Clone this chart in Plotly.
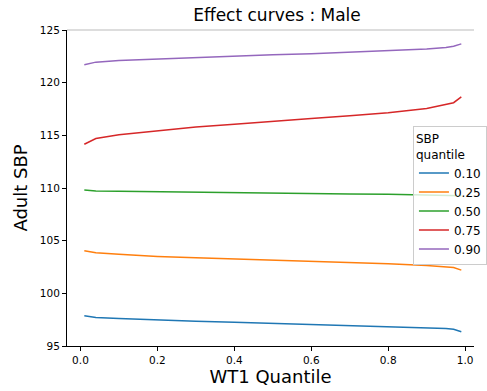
import plotly.graph_objects as go

x_quantile = [0.01, 0.04, 0.1, 0.2, 0.3, 0.4, 0.5, 0.6, 0.7, 0.8, 0.9, 0.95, 0.97, 0.99]
sbp_q10 = [97.88, 97.7, 97.6, 97.45, 97.35, 97.25, 97.15, 97.05, 96.95, 96.85, 96.72, 96.65, 96.58, 96.35]
sbp_q25 = [104.05, 103.85, 103.7, 103.5, 103.38, 103.28, 103.15, 103.05, 102.95, 102.82, 102.65, 102.5, 102.45, 102.2]
sbp_q50 = [109.8, 109.72, 109.68, 109.63, 109.58, 109.55, 109.5, 109.47, 109.43, 109.4, 109.36, 109.33, 109.32, 109.27]
sbp_q75 = [114.15, 114.7, 115.05, 115.45, 115.8, 116.05, 116.35, 116.6, 116.85, 117.15, 117.55, 117.9, 118.1, 118.65]
sbp_q90 = [121.7, 121.95, 122.1, 122.25, 122.4, 122.5, 122.65, 122.75, 122.9, 123.05, 123.2, 123.35, 123.45, 123.68]

series_names = ["0.10", "0.25", "0.50", "0.75", "0.90"]
series_values = [sbp_q10, sbp_q25, sbp_q50, sbp_q75, sbp_q90]
colors = ["#1f77b4", "#ff7f0e", "#2ca02c", "#d62728", "#9467bd"]

fig = go.Figure()
for name, vals, c in zip(series_names, series_values, colors):
    fig.add_trace(go.Scatter(x=x_quantile, y=vals, mode="lines", name=name,
                             line=dict(color=c, width=1.5)))

font = "DejaVu Sans"
fig.update_layout(
    width=487, height=391,
    margin=dict(l=67, r=0, t=30, b=45),
    plot_bgcolor="white", paper_bgcolor="white",
    font=dict(family=font, color="black", size=10.5),
    title=dict(text="Effect curves : Male", x=(67 + 487) / 2 / 487, xanchor="center",
               y=0.962, yanchor="middle", font=dict(size=17, family=font)),
    showlegend=True,
    legend=dict(title=dict(text="SBP<br>quantile", font=dict(size=12)),
                x=0.85, y=0.695, xanchor="left", yanchor="top",
                bgcolor="rgba(255,255,255,0.8)", bordercolor="#cccccc", borderwidth=1,
                font=dict(size=12), tracegroupgap=0, itemwidth=30),
    shapes=[dict(type="line", xref="paper", yref="paper", x0=0, x1=1, y0=1, y1=1,
                 line=dict(color="#bbbbbb", width=1))],
)
fig.update_xaxes(range=[-0.035, 1.023], tickvals=[0, 0.2, 0.4, 0.6, 0.8, 1.0],
                 ticktext=["0.0", "0.2", "0.4", "0.6", "0.8", "1.0"],
                 showgrid=False, zeroline=False, showline=True, linecolor="black", linewidth=1,
                 ticks="outside", ticklen=4, tickcolor="black",
                 title=dict(text="WT1 Quantile", font=dict(size=18), standoff=3))
fig.update_yaxes(range=[95, 125], tickvals=[95, 100, 105, 110, 115, 120, 125],
                 showgrid=False, zeroline=False, showline=True, linecolor="black", linewidth=1,
                 ticks="outside", ticklen=4, tickcolor="black",
                 title=dict(text="Adult SBP", font=dict(size=18), standoff=7))

fig.write_html("out.html")
